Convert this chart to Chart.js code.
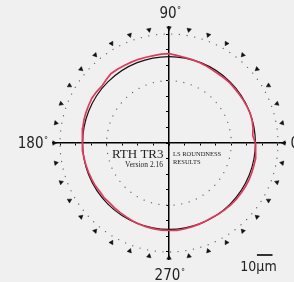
<!DOCTYPE html>
<html>
<head>
<meta charset="utf-8">
<script src="https://cdn.jsdelivr.net/npm/chart.js@4.4.1/dist/chart.umd.min.js"></script>
<style>
  html, body { margin: 0; padding: 0; background: #f0f0f0; }
  canvas { display: block; }
</style>
</head>
<body>
<canvas id="roundChart" width="294" height="282"></canvas>
<script>
// Perfil medido: radio en µm cada 5°, desde 0° en sentido antihorario
const profileStep = 5;
const profileRadii = [
  55.5, 54.0, 54.8, 55.3, 55.5, 55.3, 55.1, 54.9, 54.8, 54.9, 54.7, 54.5,
  54.6, 55.0, 55.3, 55.6, 55.9, 56.5, 57.4, 57.3, 57.0, 57.0, 57.2, 57.3,
  57.4, 57.8, 58.1, 57.2, 56.5, 57.0, 57.3, 57.0, 56.8, 56.6, 56.2, 55.9,
  55.8, 55.6, 55.4, 55.2, 55.0, 54.8, 54.7, 54.3, 54.5, 54.2, 54.4, 54.6,
  54.8, 55.2, 55.5, 55.8, 56.0, 56.2, 56.2, 56.3, 56.1, 55.8, 55.6, 55.4,
  55.3, 55.6, 55.9, 56.1, 56.3, 56.4, 56.5, 56.6, 56.5, 56.4, 56.5, 56.0
];
// Círculo de mínimos cuadrados
const lsRadius = 55.5;
// Círculos punteados de referencia
const ringRadii = [40, 70];
// Marcas triangulares cada 10°
const markerRadius = 73.8;
const markerAngles = [0, 10, 20, 30, 40, 50, 60, 70, 80, 90, 100, 110, 120, 130, 140, 150, 160, 170,
  180, 190, 200, 210, 220, 230, 240, 250, 260, 270, 280, 290, 300, 310, 320, 330, 340, 350];
// Marcas de los ejes
const axisTicks = [-70, -60, -50, -40, -30, -20, -10, 0, 10, 20, 30, 40, 50, 60, 70];
const axisLimit = 74.5;
const scaleBarUm = 10;

const toXY = (r, deg) => ({ x: r * Math.cos(deg * Math.PI / 180), y: r * Math.sin(deg * Math.PI / 180) });
const profilePoints = profileRadii.map((r, i) => toXY(r, i * profileStep));
profilePoints.push(profilePoints[0]); // cerrar el perfil
const markerPoints = markerAngles.map(a => toXY(markerRadius, a));

const narrow = "'Liberation Sans Narrow', 'DejaVu Sans Condensed', sans-serif";

const ringPlugin = {
  id: 'rings',
  beforeDatasetsDraw(chart) {
    const { ctx, scales: { x, y } } = chart;
    const cx = x.getPixelForValue(0), cy = y.getPixelForValue(0);
    ctx.save();
    ctx.strokeStyle = '#6a6a6a';
    ctx.lineWidth = 1.3;
    ctx.lineCap = 'round';
    ctx.setLineDash([0.1, 7.6]);
    ringRadii.forEach(r => {
      ctx.beginPath();
      ctx.arc(cx, cy, x.getPixelForValue(r) - cx, 0, Math.PI * 2);
      ctx.stroke();
    });
    ctx.restore();
  }
};

const textPlugin = {
  id: 'texts',
  afterDraw(chart) {
    const { ctx, scales: { x, y } } = chart;
    const cx = x.getPixelForValue(0), cy = y.getPixelForValue(0);
    ctx.save();
    ctx.fillStyle = '#222';
    ctx.textBaseline = 'alphabetic';

    const degLabel = (txt, px, py, align) => {
      ctx.font = '15px ' + narrow;
      ctx.textAlign = align;
      ctx.fillText(txt, px, py);
      const w = ctx.measureText(txt).width;
      const right = align === 'center' ? px + w / 2 : align === 'right' ? px : px + w;
      ctx.font = '9px ' + narrow;
      ctx.textAlign = 'left';
      ctx.fillText('°', right + 0.5, py - 5);
    };
    degLabel('90', cx - 1, cy - 125, 'center');
    degLabel('180', cx - 125.5, cy + 5, 'right');
    degLabel('270', cx - 1.5, cy + 137, 'center');
    degLabel('0', cx + 121.5, cy + 5, 'left');

    // textos centrales
    ctx.font = '13px "Liberation Serif", serif';
    ctx.textAlign = 'right';
    ctx.fillText('RTH TR3', cx - 5.5, cy + 14.5);
    ctx.font = '7.5px "Liberation Serif", serif';
    ctx.fillText('Version 2.16', cx - 6, cy + 23.5);
    ctx.textAlign = 'left';
    ctx.font = '6.5px "Liberation Serif", serif';
    ctx.fillText('LS ROUNDNESS', cx + 4, cy + 12.5);
    ctx.fillText('RESULTS', cx + 4, cy + 20.5);

    // barra de escala
    const barLen = x.getPixelForValue(scaleBarUm) - cx;
    ctx.strokeStyle = '#333';
    ctx.lineWidth = 2;
    ctx.beginPath();
    ctx.moveTo(272.5 - barLen, 255);
    ctx.lineTo(272.5, 255);
    ctx.stroke();
    ctx.font = '14px ' + narrow;
    ctx.textAlign = 'center';
    ctx.fillText('10µm', 258.5, 271);
    ctx.restore();
  }
};

const axisOpts = (pos) => ({
  type: 'linear',
  min: -axisLimit,
  max: axisLimit,
  position: pos,
  afterBuildTicks: scale => { scale.ticks = axisTicks.map(v => ({ value: v })); },
  ticks: { display: false },
  grid: { drawOnChartArea: false, drawTicks: true, tickLength: 2, tickColor: '#000', tickWidth: 1 },
  border: { display: true, color: '#000', width: 1.5 }
});

const ctx = document.getElementById('roundChart').getContext('2d');
const roundChart = new Chart(ctx, {
  type: 'scatter',
  data: {
    datasets: [
      {
        label: 'Perfil',
        data: profilePoints,
        showLine: true,
        borderColor: '#e03a5a',
        borderWidth: 1.7,
        pointRadius: 0,
        tension: 0,
        clip: false
      },
      {
        label: 'Círculo LS',
        data: [{ x: 0, y: 0 }],
        pointRadius: c => c.chart.scales.x.getPixelForValue(lsRadius) - c.chart.scales.x.getPixelForValue(0),
        pointBackgroundColor: 'transparent',
        pointBorderColor: '#111',
        pointBorderWidth: 1.2,
        clip: false
      },
      {
        label: 'Marcas',
        data: markerPoints,
        pointStyle: 'triangle',
        pointRadius: 2.6,
        pointRotation: c => 270 - markerAngles[c.dataIndex],
        pointBackgroundColor: '#111',
        pointBorderColor: '#111',
        pointBorderWidth: 0.5,
        clip: false
      }
    ]
  },
  options: {
    responsive: false,
    animation: false,
    devicePixelRatio: 1,
    layout: { padding: { left: 53, right: 9, top: 27, bottom: 23 } },
    plugins: { legend: { display: false }, tooltip: { enabled: false } },
    events: [],
    scales: {
      x: axisOpts({ y: 0 }),
      y: axisOpts({ x: 0 })
    }
  },
  plugins: [ringPlugin, textPlugin]
});
</script>
</body>
</html>
